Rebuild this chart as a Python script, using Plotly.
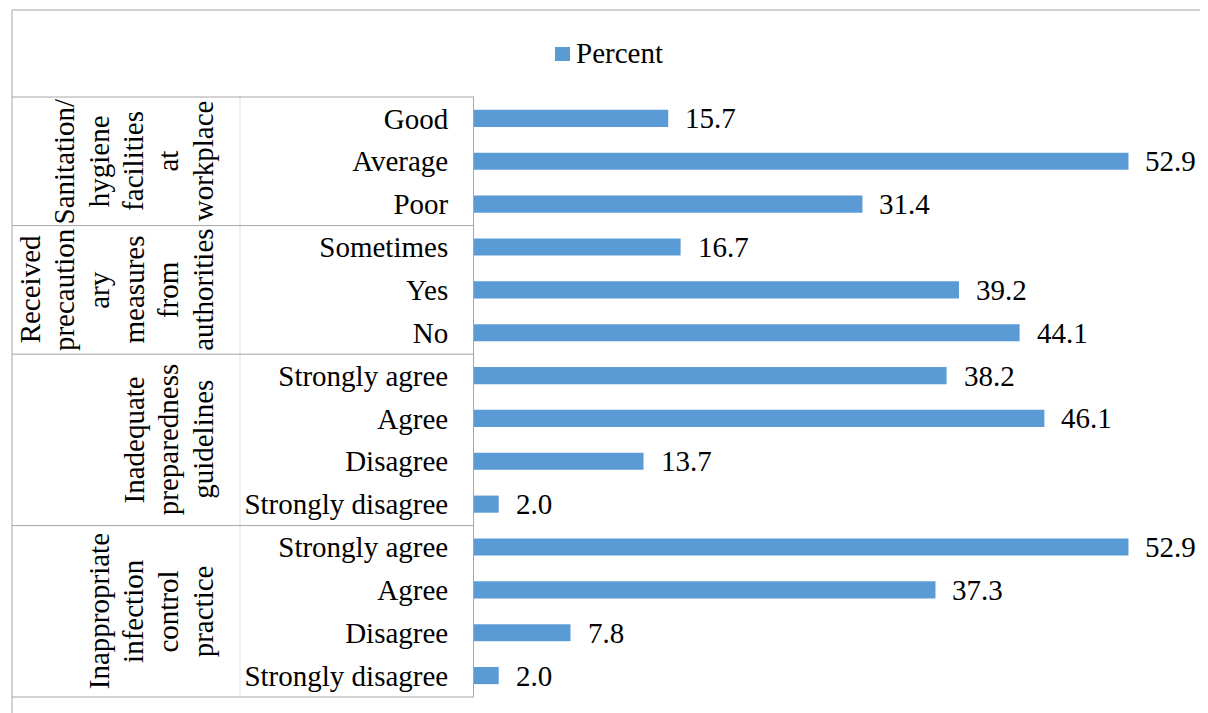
import plotly.graph_objects as go

# ---- data ----
group_lines = [
    ["Sanitation/", "hygiene", "facilities", "at", "workplace"],
    ["Received", "precaution", "ary", "measures", "from", "authorities"],
    ["Inadequate", "preparedness", "guidelines"],
    ["Inappropriate", "infection", "control", "practice"],
]
group_cats = [
    ["Good", "Average", "Poor"],
    ["Sometimes", "Yes", "No"],
    ["Strongly agree", "Agree", "Disagree", "Strongly disagree"],
    ["Strongly agree", "Agree", "Disagree", "Strongly disagree"],
]
group_values = [
    [15.7, 52.9, 31.4],
    [16.7, 39.2, 44.1],
    [38.2, 46.1, 13.7, 2.0],
    [52.9, 37.3, 7.8, 2.0],
]
series_name = "Percent"

# ---- layout constants (page pixels; the page has an 8px body margin) ----
OFF = 8
W, H = 1208 - OFF, 713 - OFF
PL, PT, PB = 474 - OFF, 97 - OFF, 697 - OFF   # plot area in figure pixels
PW, PH = W - PL, PB - PT
FONT = "Liberation Serif, Times New Roman, serif"
FS = 29
BAR = "#5b9bd5"
LINE = "#a6a6a6"


def px2x(px):   # page pixel -> paper x
    return (px - OFF - PL) / PW


def px2y(py):   # page pixel -> paper y
    return (PB - (py - OFF)) / PH


keys, labels, vals = [], [], []
for gi, (cats, vs) in enumerate(zip(group_cats, group_values)):
    for c, v in zip(cats, vs):
        keys.append(f"{gi}|{c}")
        labels.append(c)
        vals.append(v)
n = len(keys)

fig = go.Figure()
fig.add_trace(go.Bar(
    y=keys, x=vals, orientation="h", name=series_name,
    marker=dict(color=BAR, line=dict(width=0)), width=0.4,
    hoverinfo="skip", showlegend=False,
))

annotations = []
# value labels
for k, v in zip(keys, vals):
    annotations.append(dict(
        x=v, y=k, xref="x", yref="y", text=f"{v:.1f}", showarrow=False,
        xanchor="left", yanchor="middle", xshift=15,
        font=dict(family=FONT, size=FS, color="black"),
    ))

shapes = []
# outer frame (top and left, extends past the picture)
shapes.append(dict(type="line", xref="paper", yref="paper",
                   x0=px2x(12), x1=px2x(1220), y0=px2y(10), y1=px2y(10),
                   line=dict(color=LINE, width=1)))
shapes.append(dict(type="line", xref="paper", yref="paper",
                   x0=px2x(12), x1=px2x(12), y0=px2y(10), y1=px2y(720),
                   line=dict(color=LINE, width=1)))
# faint separator between group column and category column
shapes.append(dict(type="line", xref="paper", yref="paper",
                   x0=px2x(240), x1=px2x(240), y0=0, y1=1,
                   line=dict(color="#e3e3e3", width=1)))

# group boundaries & rotated group labels
row_h = 1.0 / n
start = 0
boundaries = [0]
for cats in group_cats:
    start += len(cats)
    boundaries.append(start)
for b in boundaries:
    yy = 1 - b * row_h
    shapes.append(dict(type="line", xref="paper", yref="paper",
                       x0=px2x(12), x1=0, y0=yy, y1=yy,
                       line=dict(color=LINE, width=1)))

LINE_STEP = 34.7
LAST_X = 203
for gi, lines in enumerate(group_lines):
    y_center = 1 - (boundaries[gi] + boundaries[gi + 1]) / 2 * row_h
    m = len(lines)
    for li, t in enumerate(lines):
        cx = LAST_X - (m - 1 - li) * LINE_STEP
        annotations.append(dict(
            x=px2x(cx), y=y_center, xref="paper", yref="paper", text=t,
            showarrow=False, textangle=-90, xanchor="center", yanchor="middle",
            font=dict(family=FONT, size=FS, color="black"),
        ))

# manual legend
shapes.append(dict(type="rect", xref="paper", yref="paper",
                   x0=px2x(555), x1=px2x(570), y0=px2y(61), y1=px2y(47),
                   fillcolor=BAR, line=dict(width=0)))
annotations.append(dict(
    x=px2x(574), y=px2y(53), xref="paper", yref="paper", text=series_name,
    showarrow=False, xanchor="left", yanchor="middle",
    font=dict(family=FONT, size=FS, color="black"),
))

fig.update_layout(
    width=W, height=H,
    margin=dict(l=PL, r=0, t=PT, b=H - PB, pad=0),
    paper_bgcolor="white", plot_bgcolor="white",
    xaxis=dict(range=[0, PW / 12.372], showgrid=False, zeroline=False,
               showticklabels=False, showline=False, fixedrange=True),
    yaxis=dict(autorange="reversed", tickmode="array", tickvals=keys,
               ticktext=labels, showgrid=False, zeroline=False,
               showline=True, linecolor=LINE, linewidth=1, ticks="",
               ticklabelstandoff=19,
               tickfont=dict(family=FONT, size=FS, color="black"),
               fixedrange=True),
    annotations=annotations, shapes=shapes,
    showlegend=False,
)

fig.write_html("out.html")
